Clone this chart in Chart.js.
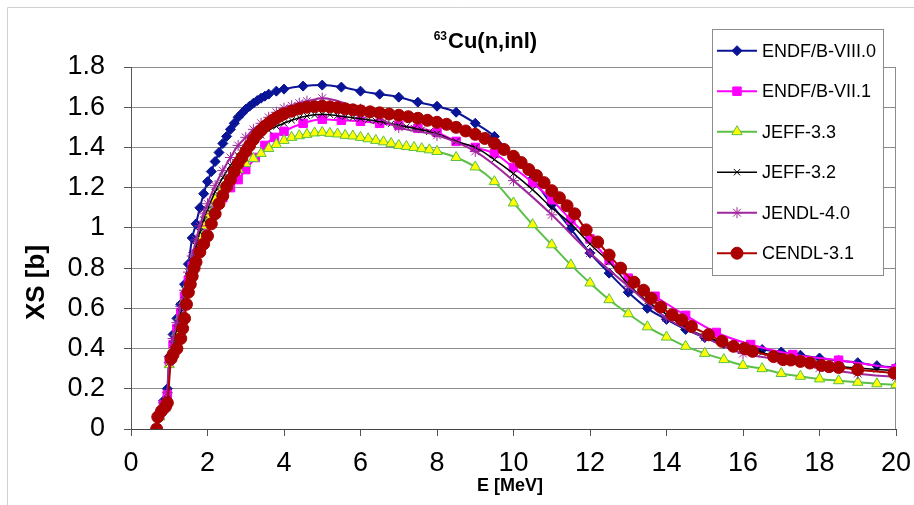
<!DOCTYPE html>
<html>
<head>
<meta charset="utf-8">
<script src="https://cdn.jsdelivr.net/npm/chart.js@4.4.0/dist/chart.umd.min.js"></script>
<style>
  html, body { margin: 0; padding: 0; background: #fff; }
  #wrap { position: relative; width: 914px; height: 505px; }
</style>
</head>
<body>
<div id="wrap"><canvas id="xsChart" width="914" height="505"></canvas></div>
<script>
// energies in MeV, cross sections in barn
const endf80E = [0.67,0.75,0.85,0.95,1.0,1.1,1.2,1.3,1.4,1.5,1.6,1.7,1.8,1.9,2.0,2.1,2.2,2.3,2.4,2.5,2.6,2.7,2.8,2.9,3.0,3.1,3.2,3.3,3.4,3.5,3.6,3.8,4.0,4.5,5.0,5.5,6.0,6.5,7.0,7.5,8.0,8.5,9.0,9.5,10.0,10.5,11.0,11.5,12.0,12.5,13.0,13.5,14.0,14.5,15.0,15.5,16.0,16.5,17.0,17.5,18.0,18.5,19.0,19.5,20.0];
const endf80XS = [0,0.08,0.14,0.2,0.36,0.47,0.55,0.62,0.72,0.82,0.95,1.02,1.10,1.17,1.23,1.28,1.33,1.375,1.42,1.455,1.49,1.52,1.55,1.57,1.59,1.605,1.62,1.633,1.645,1.655,1.665,1.68,1.69,1.705,1.71,1.70,1.68,1.665,1.65,1.625,1.605,1.575,1.52,1.455,1.35,1.245,1.115,0.995,0.875,0.775,0.68,0.60,0.545,0.495,0.455,0.425,0.41,0.395,0.383,0.367,0.353,0.34,0.33,0.315,0.305];

const endf71E = [0.67,0.75,0.85,0.95,1.0,1.1,1.2,1.3,1.4,1.5,1.6,1.7,1.8,1.9,2.0,2.2,2.4,2.6,2.8,3.0,3.25,3.5,3.75,4.0,4.5,5.0,5.5,6.0,6.5,7.0,7.5,8.0,8.5,9.0,9.5,10.0,10.5,11.0,11.5,12.0,12.5,13.0,13.7,14.5,15.3,16.2,17.3,18.5,20.0];
const endf71XS = [0,0.07,0.12,0.17,0.34,0.42,0.50,0.58,0.66,0.74,0.81,0.87,0.92,0.97,1.02,1.09,1.15,1.20,1.24,1.29,1.35,1.41,1.45,1.48,1.52,1.54,1.535,1.53,1.52,1.51,1.495,1.475,1.43,1.40,1.37,1.30,1.225,1.14,1.04,0.945,0.84,0.75,0.66,0.565,0.48,0.42,0.37,0.342,0.30];

const jeff33E = [0.67,0.75,0.85,0.95,1.0,1.1,1.2,1.3,1.4,1.5,1.6,1.7,1.8,1.9,2.0,2.2,2.4,2.6,2.8,3.0,3.2,3.4,3.6,3.8,4.0,4.2,4.4,4.6,4.8,5.0,5.2,5.4,5.6,5.8,6.0,6.2,6.4,6.6,6.8,7.0,7.2,7.4,7.6,7.8,8.0,8.5,9.0,9.5,10.0,10.5,11.0,11.5,12.0,12.5,13.0,13.5,14.0,14.5,15.0,15.5,16.0,16.5,17.0,17.5,18.0,18.5,19.0,19.5,20.0];
const jeff33XS = [0,0.06,0.10,0.14,0.32,0.40,0.48,0.56,0.64,0.72,0.80,0.88,0.95,1.01,1.06,1.14,1.20,1.25,1.29,1.32,1.345,1.37,1.395,1.415,1.435,1.45,1.458,1.465,1.472,1.475,1.47,1.467,1.46,1.457,1.45,1.443,1.435,1.428,1.42,1.41,1.405,1.40,1.394,1.388,1.38,1.35,1.303,1.23,1.124,1.016,0.916,0.816,0.726,0.643,0.573,0.508,0.457,0.411,0.376,0.345,0.316,0.30,0.276,0.262,0.249,0.24,0.232,0.225,0.22];

const jeff32E = [0.67,0.75,0.85,0.95,1.0,1.1,1.2,1.3,1.4,1.5,1.6,1.7,1.8,1.9,2.0,2.2,2.4,2.6,2.8,3.0,3.2,3.4,3.6,3.8,4.0,4.2,4.4,4.6,4.8,5.0,5.2,5.4,5.6,5.8,6.0,6.2,6.4,6.6,6.8,7.0,7.2,7.4,7.6,7.8,8.0,8.5,9.0,9.5,10.0,10.5,11.0,11.5,12.0,12.5,13.0,13.5,14.0,14.5,15.0,15.5,16.0,16.5,17.0,17.5,18.0,18.5,19.0,19.5,20.0];
const jeff32XS = [0,0.07,0.11,0.15,0.33,0.42,0.50,0.58,0.67,0.76,0.84,0.91,0.98,1.04,1.09,1.18,1.25,1.31,1.36,1.40,1.43,1.46,1.485,1.505,1.52,1.535,1.548,1.556,1.562,1.565,1.563,1.558,1.553,1.548,1.543,1.538,1.532,1.525,1.518,1.51,1.503,1.495,1.488,1.478,1.468,1.43,1.40,1.34,1.27,1.19,1.10,1.02,0.92,0.83,0.72,0.635,0.57,0.505,0.46,0.43,0.405,0.38,0.356,0.335,0.322,0.311,0.303,0.296,0.29];

const jendl40E = [0.67,0.75,0.85,0.95,1.0,1.1,1.2,1.3,1.4,1.5,1.6,1.7,1.8,1.9,2.0,2.2,2.4,2.6,2.8,3.0,3.2,3.4,3.6,3.8,4.0,4.2,4.4,4.6,5,6,7,8,9,10,11,12,13,14,15,16,17,18,19,20];
const jendl40XS = [0,0.08,0.13,0.18,0.33,0.45,0.53,0.61,0.69,0.78,0.86,0.94,1.01,1.07,1.12,1.21,1.285,1.35,1.41,1.45,1.49,1.52,1.55,1.575,1.595,1.607,1.62,1.63,1.645,1.59,1.50,1.46,1.38,1.235,1.065,0.875,0.71,0.552,0.455,0.375,0.345,0.303,0.275,0.258];

const cendl31E = [0.67,0.7,0.8,0.9,0.95,1.05,1.1,1.2,1.3,1.35,1.4,1.45,1.5,1.55,1.6,1.65,1.7,1.8,1.9,2.0,2.1,2.2,2.3,2.4,2.5,2.6,2.7,2.8,2.9,3.0,3.1,3.2,3.3,3.4,3.5,3.6,3.7,3.8,3.9,4.0,4.2,4.4,4.6,4.8,5.0,5.2,5.4,5.6,5.8,6.0,6.25,6.5,6.75,7.0,7.25,7.5,7.75,8.0,8.25,8.5,8.75,9.0,9.25,9.5,9.75,10.0,10.2,10.4,10.6,10.8,11.0,11.2,11.4,11.6,11.9,12.2,12.5,12.8,13.15,13.4,13.6,13.85,14.15,14.4,14.65,15.1,15.45,15.75,16.05,16.25,16.8,17.05,17.25,17.5,17.75,18.05,18.25,18.5,19.0,19.95];
const cendl31XS = [0,0.06,0.09,0.11,0.13,0.35,0.37,0.40,0.45,0.50,0.55,0.62,0.68,0.72,0.76,0.80,0.83,0.88,0.92,0.96,1.02,1.07,1.12,1.16,1.205,1.24,1.28,1.32,1.35,1.38,1.41,1.44,1.465,1.485,1.505,1.52,1.535,1.547,1.557,1.567,1.58,1.592,1.60,1.603,1.605,1.602,1.598,1.592,1.587,1.582,1.577,1.572,1.566,1.56,1.553,1.545,1.535,1.525,1.515,1.50,1.482,1.465,1.445,1.42,1.39,1.356,1.325,1.29,1.26,1.225,1.185,1.15,1.11,1.07,0.99,0.93,0.865,0.80,0.73,0.69,0.65,0.607,0.568,0.543,0.51,0.469,0.436,0.411,0.40,0.386,0.36,0.345,0.343,0.336,0.328,0.316,0.31,0.306,0.295,0.278];

const xTicks = [0, 20, 2];      // min, max, step
const yTicks = [0, 1.8, 0.2];

const FONT = "'Liberation Sans', Arial, sans-serif";
Chart.defaults.font.family = FONT;

function pts(E, XS) {
  return E.map((e, i) => ({ x: e, y: XS[i] }));
}

// one dataset per library, drawn later = on top (like excel)
function series(label, E, XS, line, fill, edge, style, r, lw, order) {
  return {
    label: label,
    data: pts(E, XS),
    showLine: true,
    borderColor: line,
    borderWidth: lw,
    pointStyle: style,
    pointRadius: r,
    pointBackgroundColor: fill,
    pointBorderColor: edge,
    pointBorderWidth: 1,
    cubicInterpolationMode: 'monotone',
    order: order
  };
}

const datasets = [
  series('ENDF/B-VIII.0', endf80E, endf80XS, '#0a1496', '#0a1496', '#0a1496', 'rectRot', 5, 2, 5),
  series('ENDF/B-VII.1', endf71E, endf71XS, '#ff00ff', '#ff00ff', '#ff00ff', 'rect', 6, 2, 4),
  series('JEFF-3.3', jeff33E, jeff33XS, '#5cbf47', '#ffff00', '#5cbf47', 'triangle', 6, 2, 3),
  series('JEFF-3.2', jeff32E, jeff32XS, '#000000', '#000000', '#000000', 'crossRot', 4.5, 1.5, 2),
  series('JENDL-4.0', jendl40E, jendl40XS, '#a0279e', '#a0279e', '#a0279e', 'star', 5.5, 2, 1),
  series('CENDL-3.1', cendl31E, cendl31XS, '#b00000', '#aa0000', '#aa0000', 'circle', 6, 2, 0)
];

// frame, plot border, title, axis titles and the boxed legend
const decor = {
  id: 'decor',
  beforeDraw(chart) {
    const ctx = chart.ctx;
    ctx.save();
    ctx.fillStyle = '#fff';
    ctx.fillRect(0, 0, chart.width, chart.height);
    ctx.strokeStyle = '#d0d0d0';
    ctx.lineWidth = 1;
    ctx.beginPath();
    ctx.moveTo(7.5, chart.height);
    ctx.lineTo(7.5, 7.5);
    ctx.lineTo(chart.width, 7.5);
    ctx.stroke();
    ctx.restore();
  },
  beforeDatasetsDraw(chart) {
    const ctx = chart.ctx, a = chart.chartArea;
    ctx.save();
    ctx.strokeStyle = '#8c8c8c';
    ctx.lineWidth = 1;
    ctx.beginPath();
    ctx.moveTo(Math.round(a.right) - 0.5, a.top);
    ctx.lineTo(Math.round(a.right) - 0.5, a.bottom);
    ctx.stroke();
    ctx.restore();
  },
  afterDraw(chart) {
    const ctx = chart.ctx;
    ctx.save();
    ctx.fillStyle = '#000';
    ctx.textBaseline = 'alphabetic';

    // title 63Cu(n,inl)
    ctx.font = 'bold 12px ' + FONT;
    ctx.textAlign = 'right';
    ctx.fillText('63', 447, 39.5);
    ctx.font = 'bold 22px ' + FONT;
    ctx.textAlign = 'left';
    ctx.fillText('Cu(n,inl)', 448, 47.5);

    // x axis title
    ctx.font = 'bold 18px ' + FONT;
    ctx.textAlign = 'center';
    ctx.fillText('E [MeV]', 510, 491);

    // y axis title
    ctx.save();
    ctx.translate(43.5, 282.5);
    ctx.rotate(-Math.PI / 2);
    ctx.font = 'bold 26px ' + FONT;
    ctx.textAlign = 'center';
    ctx.fillText('XS [b]', 0, 0);
    ctx.restore();

    // legend box
    ctx.fillStyle = '#fff';
    ctx.fillRect(712, 29, 171, 246);
    ctx.strokeStyle = '#8c8c8c';
    ctx.lineWidth = 1;
    ctx.strokeRect(712.5, 29.5, 171, 246);

    chart.data.datasets.forEach((ds, i) => {
      const y = 50.7 + i * 40.5;
      ctx.strokeStyle = ds.borderColor;
      ctx.lineWidth = ds.borderWidth;
      ctx.beginPath();
      ctx.moveTo(717, y);
      ctx.lineTo(757, y);
      ctx.stroke();

      ctx.fillStyle = ds.pointBackgroundColor;
      ctx.strokeStyle = ds.pointBorderColor;
      ctx.lineWidth = ds.pointBorderWidth;
      Chart.helpers.drawPoint(ctx, {
        pointStyle: ds.pointStyle,
        radius: ds.pointRadius,
        rotation: 0,
        borderWidth: ds.pointBorderWidth
      }, 737, y);

      ctx.fillStyle = '#000';
      ctx.font = '18px ' + FONT;
      ctx.textAlign = 'left';
      ctx.textBaseline = 'middle';
      ctx.fillText(ds.label, 762, y + 1);
    });
    ctx.restore();
  }
};

new Chart(document.getElementById('xsChart'), {
  type: 'scatter',
  data: { datasets: datasets },
  options: {
    responsive: false,
    animation: false,
    events: [],
    layout: { padding: { top: 67, right: 18, left: 0, bottom: 0 } },
    plugins: {
      legend: { display: false },
      tooltip: { enabled: false },
      title: { display: false }
    },
    scales: {
      x: {
        type: 'linear',
        min: xTicks[0],
        max: xTicks[1],
        ticks: { stepSize: xTicks[2], color: '#000', font: { size: 27 }, padding: 11, maxRotation: 0 },
        grid: { drawOnChartArea: false, tickLength: 7, tickColor: '#555' },
        border: { color: '#444', width: 1 },
        afterFit(scale) {
          scale.height = 76;
          scale.paddingLeft = 0;
          scale.paddingRight = 0;
        }
      },
      y: {
        type: 'linear',
        min: yTicks[0],
        max: yTicks[1],
        ticks: {
          stepSize: yTicks[2], color: '#000', font: { size: 27 }, padding: 19,
          callback: v => String(Number(v.toFixed(1)))
        },
        grid: { color: '#8c8c8c', lineWidth: 1, tickLength: 7, tickColor: '#555' },
        border: { color: '#555', width: 1 },
        afterFit(scale) {
          scale.width = 131;
          scale.paddingTop = 0;
          scale.paddingBottom = 0;
        }
      }
    }
  },
  plugins: [decor]
});
</script>
</body>
</html>
